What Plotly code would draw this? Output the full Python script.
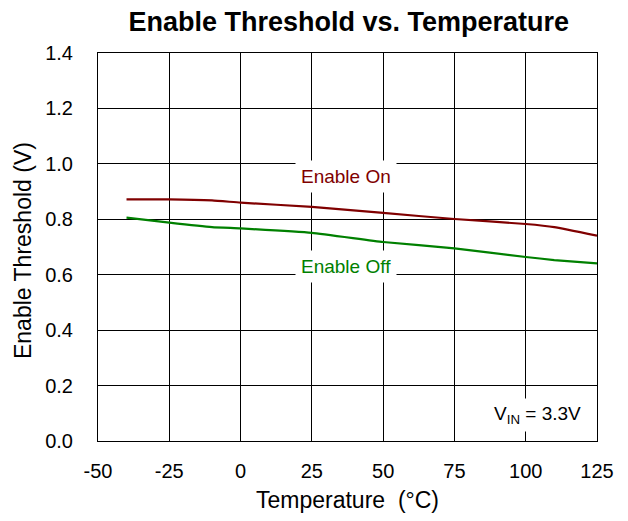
import plotly.graph_objects as go

# values
temperature = [-40, -25, -10, 0, 25, 50, 75, 100, 110, 125]
enable_on = [0.872, 0.872, 0.868, 0.860, 0.845, 0.823, 0.801, 0.783, 0.772, 0.741]
enable_off = [0.806, 0.788, 0.772, 0.767, 0.751, 0.718, 0.695, 0.664, 0.653, 0.641]

x_ticks = [-50, -25, 0, 25, 50, 75, 100, 125]
y_ticks = [0.0, 0.2, 0.4, 0.6, 0.8, 1.0, 1.2, 1.4]

font_family = "Liberation Sans, Arial, sans-serif"

fig = go.Figure()
fig.add_trace(go.Scatter(x=temperature, y=enable_on, mode="lines", name="Enable On",
                         line=dict(color="#800000", width=2.2, shape="spline", smoothing=0.4)))
fig.add_trace(go.Scatter(x=temperature, y=enable_off, mode="lines", name="Enable Off",
                         line=dict(color="#008000", width=2.2, shape="spline", smoothing=0.4)))

# curve labels with white boxes over the grid
fig.add_annotation(x=37, y=0.954, text="Enable On", showarrow=False,
                   font=dict(size=19, color="#800000"), bgcolor="white", borderpad=5)
fig.add_annotation(x=37, y=0.629, text="Enable Off", showarrow=False,
                   font=dict(size=19, color="#008000"), bgcolor="white", borderpad=5)
fig.add_annotation(x=104, y=0.093, text="V<sub>IN</sub> = 3.3V", showarrow=False,
                   font=dict(size=19, color="black"), bgcolor="white", borderpad=4)

# axis titles placed by hand
fig.add_annotation(xref="paper", yref="paper", x=0.501, y=-0.152, text="Temperature  (°C)",
                   showarrow=False, xanchor="center", yanchor="middle", font=dict(size=23))
fig.add_annotation(xref="paper", yref="paper", x=-0.150, y=0.49, text="Enable Threshold (V)",
                   showarrow=False, textangle=-90, xanchor="center", yanchor="middle",
                   font=dict(size=23))

# page body adds 8px, so the figure is sized to fit the window
fig.update_layout(
    width=620, height=513,
    margin=dict(l=90, r=31, t=45, b=80, autoexpand=False),
    paper_bgcolor="white", plot_bgcolor="white",
    showlegend=False,
    font=dict(family=font_family, color="black"),
    title=dict(text="<b>Enable Threshold vs. Temperature</b>", x=0.5495, xanchor="center",
               y=0.9737, yanchor="middle", font=dict(size=27)),
)
fig.update_xaxes(range=[-50, 125], tickvals=x_ticks, ticktext=[str(v) for v in x_ticks],
                 showgrid=True, gridcolor="black", gridwidth=1,
                 showline=True, linecolor="black", linewidth=1, mirror=True,
                 zeroline=False, ticks="", ticklabelstandoff=12, automargin=False,
                 tickfont=dict(size=20))
fig.update_yaxes(range=[0, 1.4], tickvals=y_ticks, ticktext=[f"{v:.1f}" for v in y_ticks],
                 showgrid=True, gridcolor="black", gridwidth=1,
                 showline=True, linecolor="black", linewidth=1, mirror=True,
                 zeroline=False, ticks="", ticklabelstandoff=20, automargin=False,
                 tickfont=dict(size=20))

fig.write_html("out.html")
